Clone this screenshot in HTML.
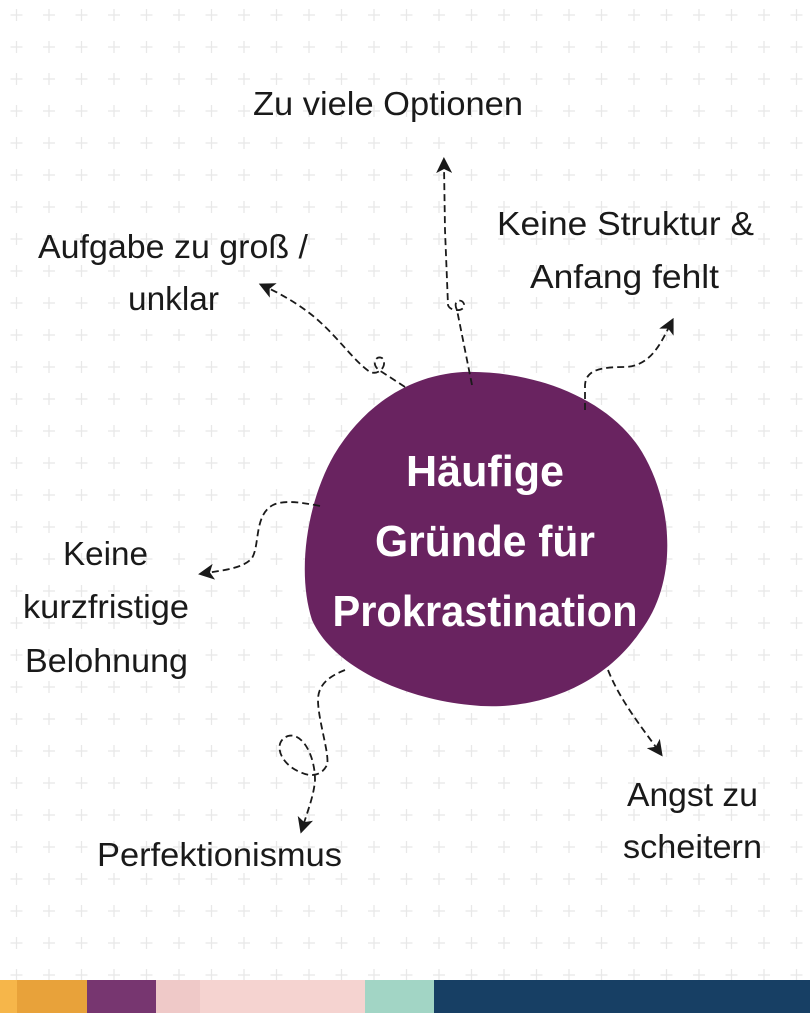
<!DOCTYPE html>
<html><head><meta charset="utf-8"><style>
html,body{margin:0;padding:0;background:#fff;}
svg{display:block;}
</style></head><body>
<svg width="810" height="1013" viewBox="0 0 810 1013" xmlns="http://www.w3.org/2000/svg">
<defs>
<pattern id="g" x="0.5" y="-1" width="32.5" height="32" patternUnits="userSpaceOnUse">
<path d="M16 10v12M10 16h12" stroke="#e8e8e8" stroke-width="1.3" fill="none"/>
</pattern>
<marker id="a" viewBox="0 0 12 12" refX="6" refY="6" markerWidth="16" markerHeight="16" markerUnits="userSpaceOnUse" orient="auto">
<path d="M0 0 L12 6 L0 12 L3 6 Z" fill="#1a1a1a"/>
</marker>
</defs>
<rect width="810" height="1013" fill="#fff"/>
<rect width="810" height="980" fill="url(#g)"/>
<rect x="0" y="980" width="17" height="33" fill="#f6b64a"/>
<rect x="17" y="980" width="70" height="33" fill="#e8a23a"/>
<rect x="87" y="980" width="69" height="33" fill="#773670"/>
<rect x="156" y="980" width="44" height="33" fill="#efc9c8"/>
<rect x="200" y="980" width="165" height="33" fill="#f5d3d0"/>
<rect x="365" y="980" width="69" height="33" fill="#a2d5c5"/>
<rect x="434" y="980" width="376" height="33" fill="#173f64"/>
<path d="M463 372 C540 370 612 402 642 452 C672 502 680 580 640 632 C600 690 530 712 470 705 C400 698 332 665 312 620 C296 570 308 500 334 455 C364 405 410 375 463 372 Z" fill="#692360"/>
<g font-family="'Liberation Sans',sans-serif" font-weight="bold" fill="#fff" text-anchor="middle" font-size="44">
<text x="485" y="486" textLength="158" lengthAdjust="spacingAndGlyphs">Häufige</text>
<text x="485" y="556" textLength="220" lengthAdjust="spacingAndGlyphs">Gründe für</text>
<text x="485" y="626" textLength="305" lengthAdjust="spacingAndGlyphs">Prokrastination</text>
</g>
<g font-family="'Liberation Sans',sans-serif" fill="#1a1a1a" font-size="33">
<text x="253" y="115" textLength="270" lengthAdjust="spacingAndGlyphs">Zu viele Optionen</text>
<text x="38" y="258" textLength="270" lengthAdjust="spacingAndGlyphs">Aufgabe zu groß /</text>
<text x="128" y="310" textLength="91" lengthAdjust="spacingAndGlyphs">unklar</text>
<text x="497" y="235" textLength="257" lengthAdjust="spacingAndGlyphs">Keine Struktur &amp;</text>
<text x="530" y="288" textLength="189" lengthAdjust="spacingAndGlyphs">Anfang fehlt</text>
<text x="63" y="565" textLength="85" lengthAdjust="spacingAndGlyphs">Keine</text>
<text x="23" y="618" textLength="166" lengthAdjust="spacingAndGlyphs">kurzfristige</text>
<text x="25" y="672" textLength="163" lengthAdjust="spacingAndGlyphs">Belohnung</text>
<text x="97" y="866" textLength="245" lengthAdjust="spacingAndGlyphs">Perfektionismus</text>
<text x="627" y="806" textLength="131" lengthAdjust="spacingAndGlyphs">Angst zu</text>
<text x="623" y="858" textLength="139" lengthAdjust="spacingAndGlyphs">scheitern</text>
</g>
<g fill="none" stroke="#1a1a1a" stroke-width="1.8" stroke-dasharray="7 4" marker-end="url(#a)">
<path d="M472 385 L457 310 C452 300 462 298 464 304 C466 312 450 312 448 305 L445 230 L444 165"/>
<path d="M405 387 L382 372 C370 366 375 355 382 358 C388 364 380 376 370 372 C355 362 340 340 320 322 C305 308 285 296 266 287"/>
<path d="M585 410 L585 385 C586 370 600 367 625 367 C650 366 660 345 670 325"/>
<path d="M320 506 C300 502 283 500 273 505 C254 515 260 545 252 558 C244 568 225 570 206 573"/>
<path d="M345 670 C330 676 318 684 318 700 C318 720 330 755 327 765 C322 775 312 778 300 772 C280 764 272 742 288 736 C302 732 315 755 315 780 C314 795 308 810 303 826"/>
<path d="M608 670 C620 700 640 725 658 750"/>
</g>
</svg>
</body></html>
